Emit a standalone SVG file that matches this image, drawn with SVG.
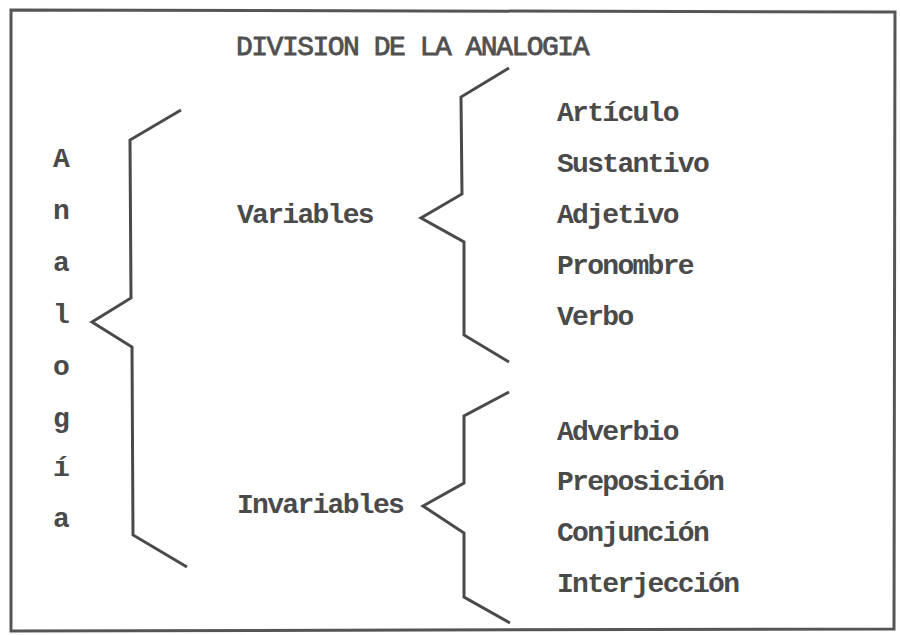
<svg xmlns="http://www.w3.org/2000/svg" width="900" height="635" viewBox="0 0 900 635">
<style>
.t{font-family:"Liberation Mono","Courier New",monospace;font-size:28px;letter-spacing:-1.7px;fill:#4a4a4a;font-weight:bold}
.title{font-weight:normal;letter-spacing:-1.5px;fill:#505050;stroke:#505050;stroke-width:0.8}
.br{fill:none;stroke:#4a4a4a;stroke-width:3;stroke-linejoin:miter;stroke-linecap:butt}
.frame{fill:none;stroke:#555;stroke-width:3}
</style>
<rect width="900" height="635" fill="#fff"/>
<path class="frame" d="M11,10 L895,12 L894,629 L11,631 Z"/>
<g id="title"><text class="t title" x="236" y="55">DIVISION DE LA ANALOGIA</text></g>
<g id="analogia">
<text class="t" x="53" y="167">A</text>
<text class="t" x="53" y="219">n</text>
<text class="t" x="53" y="271">a</text>
<text class="t" x="53" y="323">l</text>
<text class="t" x="53" y="375">o</text>
<text class="t" x="53" y="427">g</text>
<text class="t" x="53" y="476">í</text>
<text class="t" x="53" y="527">a</text>
</g>
<g id="variables"><text class="t" x="237" y="223">Variables</text></g>
<g id="invariables"><text class="t" x="237" y="513">Invariables</text></g>
<g id="var-items">
<text class="t" x="557" y="121">Artículo</text>
<text class="t" x="557" y="172">Sustantivo</text>
<text class="t" x="557" y="223">Adjetivo</text>
<text class="t" x="557" y="274">Pronombre</text>
<text class="t" x="557" y="325">Verbo</text>
</g>
<g id="invar-items">
<text class="t" x="557" y="440">Adverbio</text>
<text class="t" x="557" y="490">Preposición</text>
<text class="t" x="557" y="541">Conjunción</text>
<text class="t" x="557" y="592">Interjección</text>
</g>
<g id="connectors">
<path class="br" d="M181,110 L130,140 L131,298 L92,322 L132,347 L133,535 L187,567"/>
<path class="br" d="M509,68 L461,97 L462,194 L421,218 L464,242 L464,335 L509,362"/>
<path class="br" d="M509,392 L464,416 L464,483 L423,506 L464,533 L464,597 L510,623"/>
</g>
</svg>
